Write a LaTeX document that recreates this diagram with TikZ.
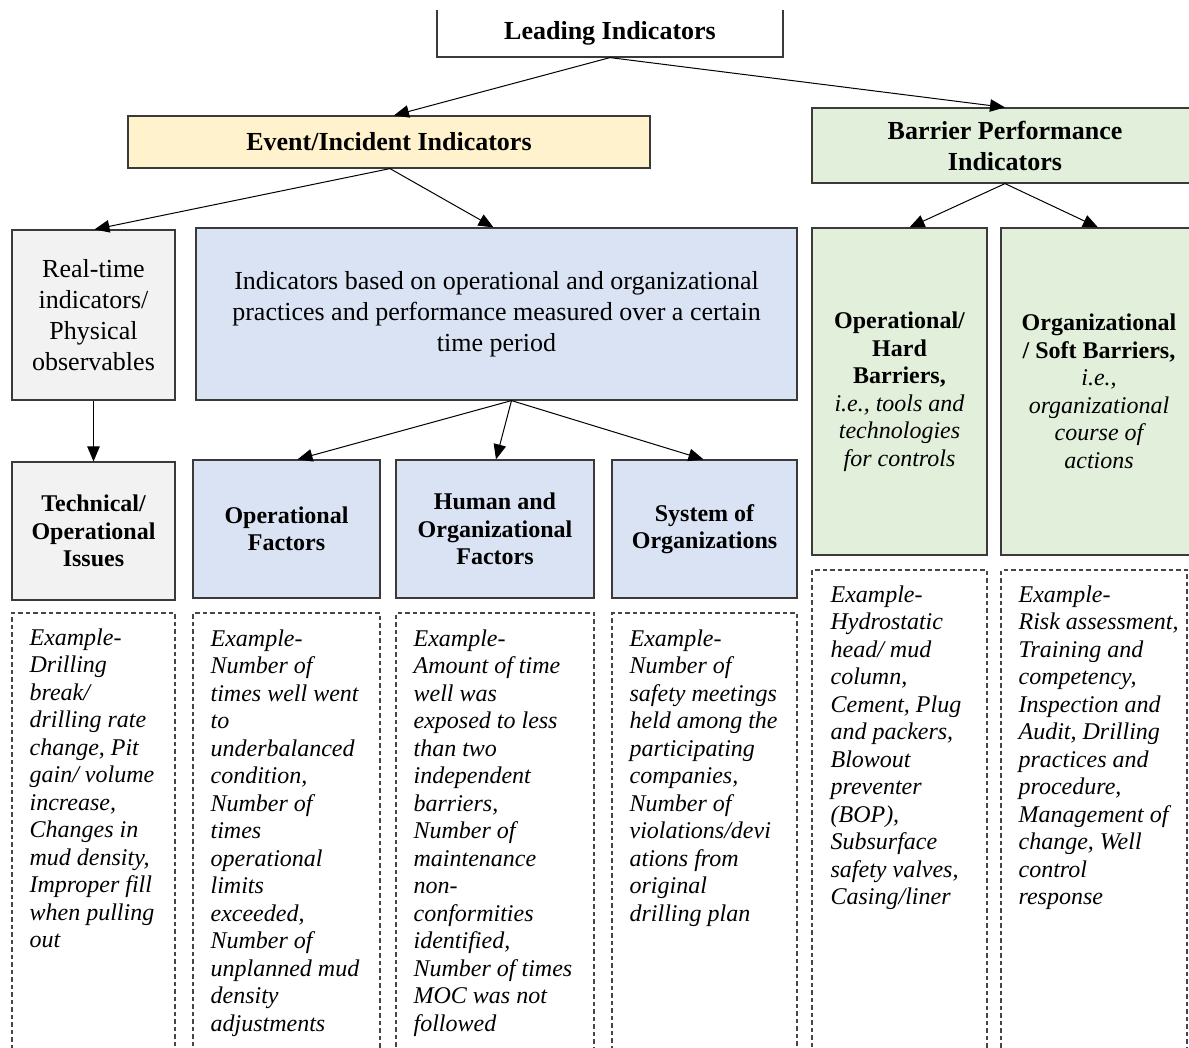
\documentclass[tikz,border=0pt]{standalone}
\usepackage{fontspec}
\setmainfont{Liberation Serif}
\usetikzlibrary{arrows.meta}

\definecolor{edge}{HTML}{3A3A3A}
\definecolor{yellowfill}{HTML}{FFF2CC}
\definecolor{greenfill}{HTML}{E2EFDA}
\definecolor{bluefill}{HTML}{DAE3F3}
\definecolor{grayfill}{HTML}{F2F2F2}
\definecolor{dashcol}{HTML}{464646}

\newcommand{\bigtxt}{\fontsize{26}{31}\selectfont}
\newcommand{\smalltxt}{\fontsize{24}{27.5}\selectfont}

\begin{document}
\begin{tikzpicture}[x=1pt,y=-1pt,
  box/.style={draw=edge, line width=1.2pt, inner sep=0pt, align=center},
  topbox/.style={box, font=\bigtxt\bfseries},
  subbox/.style={box, font=\smalltxt\bfseries},
  plainbox/.style={box, font=\bigtxt},
  exbox/.style={draw=dashcol, line width=1.2pt, dash pattern=on 4.5pt off 3pt, inner sep=0pt},
  extext/.style={anchor=north west, inner sep=0pt, align=left, font=\smalltxt\itshape},
  link/.style={line width=1pt, -{Triangle[length=15pt,width=12.5pt]}}
]
\useasboundingbox (0,0) rectangle (1189,1048);
\clip (0,11) rectangle (1189,1048);

% ---- level 0 ----
\node[topbox, fill=white, minimum width=346, minimum height=48] (lead) at (610,33) {Leading Indicators};

% ---- level 1 ----
\node[topbox, fill=yellowfill, minimum width=522, minimum height=52] (event) at (389,142) {Event/Incident Indicators};
\node[topbox, fill=greenfill, minimum width=386, minimum height=75] (barrier) at (1005,145.5) {Barrier Performance\\Indicators};

% ---- level 2 ----
\node[plainbox, fill=grayfill, minimum width=163, minimum height=170] (realtime) at (93.5,315) {Real-time\\indicators/\\Physical\\observables};
\node[plainbox, fill=bluefill, minimum width=601, minimum height=172] (perf) at (496.5,314) {Indicators based on operational and organizational\\practices and performance measured over a certain\\time period};
\node[subbox, fill=greenfill, minimum width=175, minimum height=327] (hard) at (899.5,391.5)
  {Operational/\\Hard\\Barriers,\\{\normalfont\itshape i.e., tools and}\\{\normalfont\itshape technologies}\\{\normalfont\itshape for controls}};
\node[subbox, fill=greenfill, minimum width=196, minimum height=327] (soft) at (1099,391.5)
  {Organizational\\/ Soft Barriers,\\{\normalfont\itshape i.e.,}\\{\normalfont\itshape organizational}\\{\normalfont\itshape course of}\\{\normalfont\itshape actions}};

% ---- level 3 ----
\node[subbox, fill=grayfill, minimum width=163, minimum height=138] (tech) at (93.5,531) {Technical/\\Operational\\Issues};
\node[subbox, fill=bluefill, minimum width=187, minimum height=138] (opf) at (286.5,529) {Operational\\Factors};
\node[subbox, fill=bluefill, minimum width=198, minimum height=138] (hof) at (495,529) {Human and\\Organizational\\Factors};
\node[subbox, fill=bluefill, minimum width=185, minimum height=138] (soo) at (704.5,529) {System of\\Organizations};

% ---- example panels ----
\node[exbox, minimum width=163, minimum height=480] (ex1) at (93.5,853) {};
\node[exbox, minimum width=187, minimum height=480] (ex2) at (286.5,853) {};
\node[exbox, minimum width=198, minimum height=480] (ex3) at (495,853) {};
\node[exbox, minimum width=185, minimum height=480] (ex4) at (704.5,853) {};
\node[exbox, minimum width=175, minimum height=520] (ex5) at (899.5,830) {};
\node[exbox, minimum width=186, minimum height=520] (ex6) at (1094,830) {};

\node[extext] (t1) at ([xshift=18,yshift=-16]ex1.north west) {Example-\\Drilling\\break/\\drilling rate\\change, Pit\\gain/ volume\\increase,\\Changes in\\mud density,\\Improper fill\\when pulling\\out};
\node[extext] (t2) at ([xshift=18,yshift=-17]ex2.north west) {Example-\\Number of\\times well went\\to\\underbalanced\\condition,\\Number of\\times\\operational\\limits\\exceeded,\\Number of\\unplanned mud\\density\\adjustments};
\node[extext] (t3) at ([xshift=18,yshift=-17]ex3.north west) {Example-\\Amount of time\\well was\\exposed to less\\than two\\independent\\barriers,\\Number of\\maintenance\\non-\\conformities\\identified,\\Number of times\\MOC was not\\followed};
\node[extext] (t4) at ([xshift=18,yshift=-17]ex4.north west) {Example-\\Number of\\safety meetings\\held among the\\participating\\companies,\\Number of\\violations/devi\\ations from\\original\\drilling plan};
\node[extext] (t5) at ([xshift=19,yshift=-16]ex5.north west) {Example-\\Hydrostatic\\head/ mud\\column,\\Cement, Plug\\and packers,\\Blowout\\preventer\\(BOP),\\Subsurface\\safety valves,\\Casing/liner};
\node[extext] (t6) at ([xshift=18,yshift=-16]ex6.north west) {Example-\\Risk assessment,\\Training and\\competency,\\Inspection and\\Audit, Drilling\\practices and\\procedure,\\Management of\\change, Well\\control\\response};

% ---- connectors ----
\draw[link] (lead.south) -- ([xshift=5]event.north);
\draw[link] (lead.south) -- (barrier.north);
\draw[link] ([xshift=1]event.south) -- ([xshift=1]realtime.north);
\draw[link] ([xshift=1]event.south) -- ([xshift=-3]perf.north);
\draw[link] (barrier.south) -- ([xshift=10]hard.north);
\draw[link] (barrier.south) -- ([xshift=-1]soft.north);
\draw[link] (realtime.south) -- (tech.north);
\draw[link] ([xshift=15]perf.south) -- ([xshift=11]opf.north);
\draw[link] ([xshift=15]perf.south) -- ([xshift=1]hof.north);
\draw[link] ([xshift=15]perf.south) -- ([xshift=-1]soo.north);
\end{tikzpicture}
\end{document}
